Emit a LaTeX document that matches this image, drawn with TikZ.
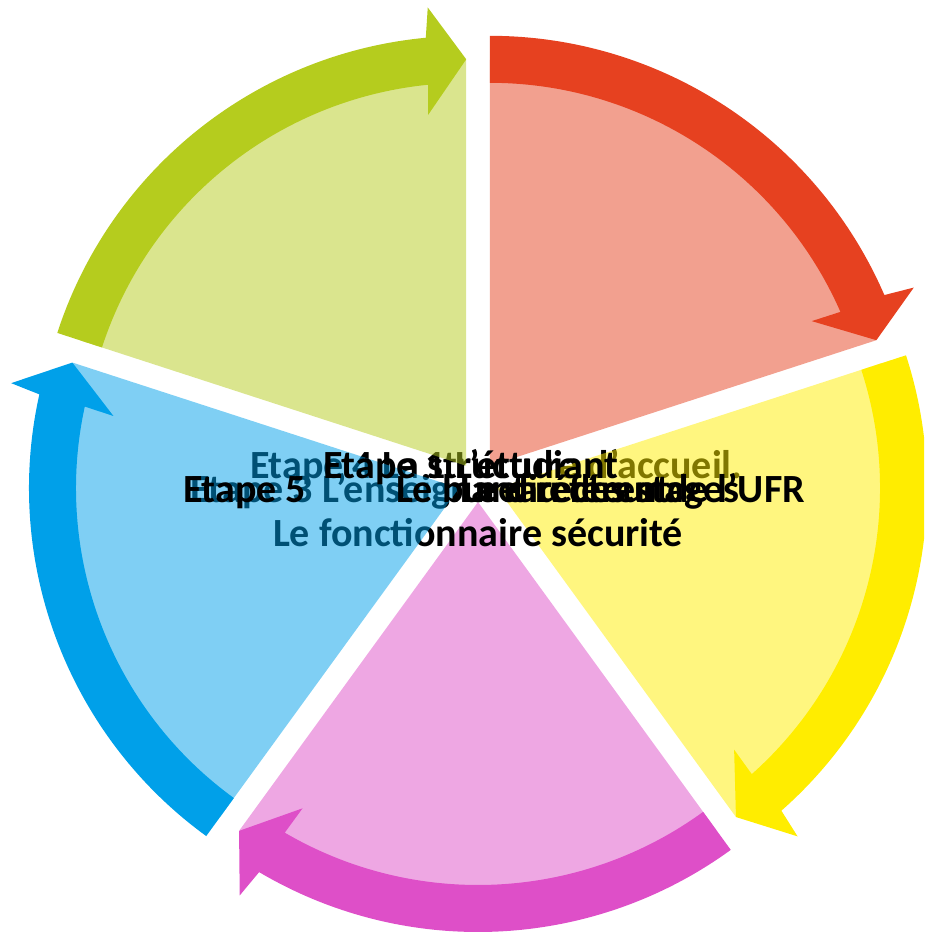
\documentclass[tikz,border=0pt]{standalone}
\usepackage{fontspec}
\setmainfont{Carlito}
\usetikzlibrary{calc}
\definecolor{cred}{RGB}{230,65,32}
\definecolor{cyel}{RGB}{255,237,0}
\definecolor{cpink}{RGB}{222,79,200}
\definecolor{cblue}{RGB}{0,160,233}
\definecolor{cgreen}{RGB}{181,204,30}
\newcommand\cycarrow[4]{%
 \pgfmathsetmacro\ca{#3+5.4}\pgfmathsetmacro\cb{#3+4.8}%
 \pgfmathsetmacro\cc{#3+6.2}\pgfmathsetmacro\cd{#3+5.7}%
 \fill[arrowband,#4] ([shift={(#1)}]#2:430pt) arc[start angle=#2,end angle=\ca,radius=430pt]
   -- ([shift={(#1)}]\cb:460pt) -- ([shift={(#1)}]#3:406.5pt) -- ([shift={(#1)}]\cc:353pt)
   -- ([shift={(#1)}]\cd:383pt) arc[start angle=\cd,end angle=#2,radius=383pt] -- cycle;}
\newcommand\cycwedge[4]{\fill[wedge,#4] (#1) -- ([shift={(#1)}]#3:406pt) arc[start angle=#3,end angle=#2,radius=406pt] -- cycle;}
\begin{document}
\begin{tikzpicture}[x=1pt,y=1pt,
  wedge/.style={fill opacity=0.5},
  arrowband/.style={},
  lbl/.style={inner sep=0pt,outer sep=0pt,text=black,font=\fontsize{40}{44}\selectfont\bfseries}]
\useasboundingbox (0,0) rectangle (924,932);
\clip (0,0) rectangle (924,932);
\coordinate (C) at (478,450);
\coordinate (V1) at ($(C)+(54:20pt)$);
\coordinate (V2) at ($(C)+(-18:20pt)$);
\coordinate (V3) at ($(C)+(-90:20pt)$);
\coordinate (V4) at ($(C)+(-162:20pt)$);
\coordinate (V5) at ($(C)+(126:20pt)$);
% segment 1 (red)
\cycwedge{V1}{90}{18}{cred}
\node[lbl,anchor=base west] (tA) at (250,453) {Etape 4 La structure d’accueil.};
% segment 2 (yellow)
\cycwedge{V2}{18}{-54}{cyel}
% segment 3 (pink)
\cycwedge{V3}{-54}{-126}{cpink}
\node[lbl,anchor=base west] (tC1) at (190,429) {Etape 3 L’enseignant référent};
\node[lbl,anchor=base west] (tC2) at (273,385) {Le fonctionnaire sécurité};
% segment 4 (blue)
\cycwedge{V4}{-126}{-198}{cblue}
\node[lbl,anchor=base west] (tD1) at (323,453) {Etape 1 L’étudiant};
\node[lbl,anchor=base west] (tD2) at (183,429) {Etape 5};
\node[lbl,anchor=base west] (tD3) at (396,429) {Le bureau des stages};
\node[lbl,anchor=base east] (tD4) at (805,429) {Le directeur de l’UFR};
% segment 5 (green)
\cycwedge{V5}{-198}{-270}{cgreen}
% arrows
\cycarrow{V1}{90}{18}{cred}
\cycarrow{V2}{18}{-54}{cyel}
\cycarrow{V3}{-54}{-126}{cpink}
\cycarrow{V4}{-126}{-198}{cblue}
\cycarrow{V5}{-198}{-270}{cgreen}
\end{tikzpicture}
\end{document}
